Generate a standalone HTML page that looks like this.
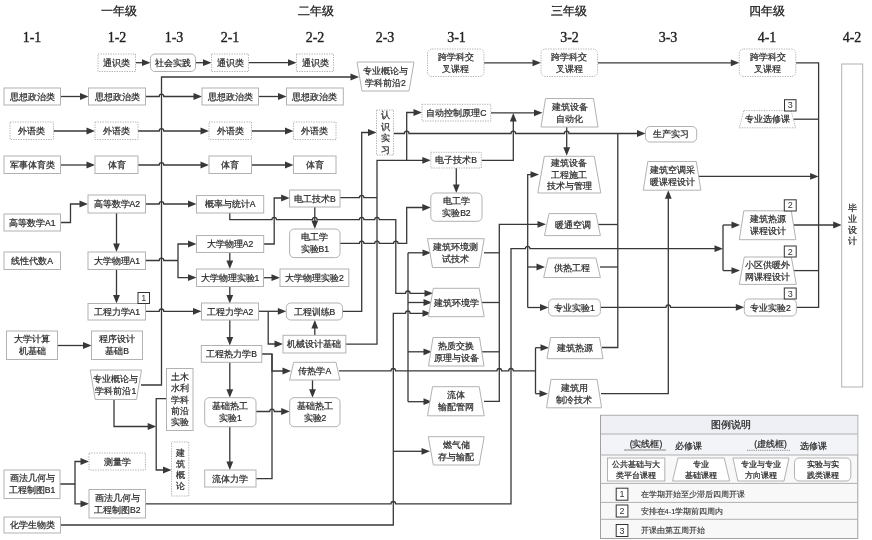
<!DOCTYPE html>
<html><head><meta charset="utf-8"><style>
html,body{margin:0;padding:0;background:#fff;}
svg{display:block;filter:blur(0.35px);}
</style></head><body>
<svg width="872" height="540" viewBox="0 0 872 540">
<rect width="872" height="540" fill="#fff"/>
<text x="118.5" y="10.9" font-size="11.5" fill="#222" text-anchor="middle" dominant-baseline="central" font-family='"Liberation Serif",serif' font-weight="normal" stroke="#222" stroke-width="0.3">一年级</text>
<text x="316.0" y="10.9" font-size="11.5" fill="#222" text-anchor="middle" dominant-baseline="central" font-family='"Liberation Serif",serif' font-weight="normal" stroke="#222" stroke-width="0.3">二年级</text>
<text x="569.0" y="10.9" font-size="11.5" fill="#222" text-anchor="middle" dominant-baseline="central" font-family='"Liberation Serif",serif' font-weight="normal" stroke="#222" stroke-width="0.3">三年级</text>
<text x="767.0" y="10.9" font-size="11.5" fill="#222" text-anchor="middle" dominant-baseline="central" font-family='"Liberation Serif",serif' font-weight="normal" stroke="#222" stroke-width="0.3">四年级</text>
<text x="32.0" y="37.1" font-size="14" fill="#222" text-anchor="middle" dominant-baseline="central" font-family='"Liberation Serif",serif' font-weight="normal" stroke="#222" stroke-width="0.35">1-1</text>
<text x="117.0" y="37.1" font-size="14" fill="#222" text-anchor="middle" dominant-baseline="central" font-family='"Liberation Serif",serif' font-weight="normal" stroke="#222" stroke-width="0.35">1-2</text>
<text x="174.0" y="37.1" font-size="14" fill="#222" text-anchor="middle" dominant-baseline="central" font-family='"Liberation Serif",serif' font-weight="normal" stroke="#222" stroke-width="0.35">1-3</text>
<text x="230.0" y="37.1" font-size="14" fill="#222" text-anchor="middle" dominant-baseline="central" font-family='"Liberation Serif",serif' font-weight="normal" stroke="#222" stroke-width="0.35">2-1</text>
<text x="315.0" y="37.1" font-size="14" fill="#222" text-anchor="middle" dominant-baseline="central" font-family='"Liberation Serif",serif' font-weight="normal" stroke="#222" stroke-width="0.35">2-2</text>
<text x="385.0" y="37.1" font-size="14" fill="#222" text-anchor="middle" dominant-baseline="central" font-family='"Liberation Serif",serif' font-weight="normal" stroke="#222" stroke-width="0.35">2-3</text>
<text x="456.5" y="37.1" font-size="14" fill="#222" text-anchor="middle" dominant-baseline="central" font-family='"Liberation Serif",serif' font-weight="normal" stroke="#222" stroke-width="0.35">3-1</text>
<text x="569.5" y="37.1" font-size="14" fill="#222" text-anchor="middle" dominant-baseline="central" font-family='"Liberation Serif",serif' font-weight="normal" stroke="#222" stroke-width="0.35">3-2</text>
<text x="668.0" y="37.1" font-size="14" fill="#222" text-anchor="middle" dominant-baseline="central" font-family='"Liberation Serif",serif' font-weight="normal" stroke="#222" stroke-width="0.35">3-3</text>
<text x="767.0" y="37.1" font-size="14" fill="#222" text-anchor="middle" dominant-baseline="central" font-family='"Liberation Serif",serif' font-weight="normal" stroke="#222" stroke-width="0.35">4-1</text>
<text x="852.0" y="37.1" font-size="14" fill="#222" text-anchor="middle" dominant-baseline="central" font-family='"Liberation Serif",serif' font-weight="normal" stroke="#222" stroke-width="0.35">4-2</text>
<path d="M135.5,62.7 L143.5,62.7" fill="none" stroke="#383838" stroke-width="1.3"/>
<polygon points="150.5,62.7 142.0,59.3 142.0,66.1" fill="#383838"/>
<path d="M195.5,62.7 L204.5,62.7" fill="none" stroke="#383838" stroke-width="1.3"/>
<polygon points="211.5,62.7 203.0,59.3 203.0,66.1" fill="#383838"/>
<path d="M248.5,62.7 L289.5,62.7" fill="none" stroke="#383838" stroke-width="1.3"/>
<polygon points="296.5,62.7 288.0,59.3 288.0,66.1" fill="#383838"/>
<path d="M141,385 L161.5,385 L161.5,77 L352,77" fill="none" stroke="#383838" stroke-width="1.3"/>
<polygon points="359.0,77.0 350.5,73.6 350.5,80.4" fill="#383838"/>
<path d="M60.5,96.5 L81.5,96.5" fill="none" stroke="#383838" stroke-width="1.3"/>
<polygon points="88.5,96.5 80.0,93.1 80.0,99.9" fill="#383838"/>
<path d="M145.5,96.5 L159.2,96.5 A2.3,2.3 0 0 1 163.8,96.5 L195,96.5" fill="none" stroke="#383838" stroke-width="1.3"/>
<polygon points="202.0,96.5 193.5,93.1 193.5,99.9" fill="#383838"/>
<path d="M258.5,96.5 L279.5,96.5" fill="none" stroke="#383838" stroke-width="1.3"/>
<polygon points="286.5,96.5 278.0,93.1 278.0,99.9" fill="#383838"/>
<path d="M53.5,131 L88,131" fill="none" stroke="#383838" stroke-width="1.3"/>
<polygon points="95.0,131.0 86.5,127.6 86.5,134.4" fill="#383838"/>
<path d="M138,131 L159.2,131 A2.3,2.3 0 0 1 163.8,131 L202,131" fill="none" stroke="#383838" stroke-width="1.3"/>
<polygon points="209.0,131.0 200.5,127.6 200.5,134.4" fill="#383838"/>
<path d="M251.5,131 L286.5,131" fill="none" stroke="#383838" stroke-width="1.3"/>
<polygon points="293.5,131.0 285.0,127.6 285.0,134.4" fill="#383838"/>
<path d="M60.5,165 L88,165" fill="none" stroke="#383838" stroke-width="1.3"/>
<polygon points="95.0,165.0 86.5,161.6 86.5,168.4" fill="#383838"/>
<path d="M138,165 L159.2,165 A2.3,2.3 0 0 1 163.8,165 L202,165" fill="none" stroke="#383838" stroke-width="1.3"/>
<polygon points="209.0,165.0 200.5,161.6 200.5,168.4" fill="#383838"/>
<path d="M251.5,165 L286.5,165" fill="none" stroke="#383838" stroke-width="1.3"/>
<polygon points="293.5,165.0 285.0,161.6 285.0,168.4" fill="#383838"/>
<path d="M60.5,222.5 L70.5,222.5 L70.5,204 L81,204" fill="none" stroke="#383838" stroke-width="1.3"/>
<polygon points="88.0,204.0 79.5,200.6 79.5,207.4" fill="#383838"/>
<path d="M145.5,204 L159.2,204 A2.3,2.3 0 0 1 163.8,204 L189.5,204" fill="none" stroke="#383838" stroke-width="1.3"/>
<polygon points="196.5,204.0 188.0,200.6 188.0,207.4" fill="#383838"/>
<path d="M116.5,213 L116.5,245" fill="none" stroke="#383838" stroke-width="1.3"/>
<polygon points="116.5,252.0 113.1,243.5 119.9,243.5" fill="#383838"/>
<path d="M145.5,260.5 L159.2,260.5 A2.3,2.3 0 0 1 163.8,260.5 L178,260.5" fill="none" stroke="#383838" stroke-width="1.3"/>
<path d="M178,260.5 L178,244 L189.5,244" fill="none" stroke="#383838" stroke-width="1.3"/>
<polygon points="196.5,244.0 188.0,240.6 188.0,247.4" fill="#383838"/>
<path d="M178,260.5 L178,277.6 L189.5,277.6" fill="none" stroke="#383838" stroke-width="1.3"/>
<polygon points="196.5,277.6 188.0,274.2 188.0,281.0" fill="#383838"/>
<path d="M116.5,269.5 L116.5,296.5" fill="none" stroke="#383838" stroke-width="1.3"/>
<polygon points="116.5,303.5 113.1,295.0 119.9,295.0" fill="#383838"/>
<path d="M145.5,311.3 L159.2,311.3 A2.3,2.3 0 0 1 163.8,311.3 L194.5,311.3" fill="none" stroke="#383838" stroke-width="1.3"/>
<polygon points="201.5,311.3 193.0,307.9 193.0,314.7" fill="#383838"/>
<path d="M57.5,345.5 L84.5,345.5" fill="none" stroke="#383838" stroke-width="1.3"/>
<polygon points="91.5,345.5 83.0,342.1 83.0,348.9" fill="#383838"/>
<path d="M114,399.5 L114,426.5 L149.2,426.5" fill="none" stroke="#383838" stroke-width="1.3"/>
<polygon points="156.2,426.5 147.7,423.1 147.7,429.9" fill="#383838"/>
<path d="M166.5,398.7 L156.2,398.7 L156.2,470 L164.5,470" fill="none" stroke="#383838" stroke-width="1.3"/>
<polygon points="171.5,470.0 163.0,466.6 163.0,473.4" fill="#383838"/>
<path d="M60,484 L75,484 L75,461.5 L82,461.5" fill="none" stroke="#383838" stroke-width="1.3"/>
<polygon points="89.0,461.5 80.5,458.1 80.5,464.9" fill="#383838"/>
<path d="M75,484 L75,503.8 L82,503.8" fill="none" stroke="#383838" stroke-width="1.3"/>
<polygon points="89.0,503.8 80.5,500.4 80.5,507.2" fill="#383838"/>
<path d="M145.5,503.8 L391.0,503.8 A2.3,2.3 0 0 1 395.6,503.8 L511,503.8 L511,248.7 L525.4000000000001,248.7 A2.3,2.3 0 0 1 530.0,248.7 L716,248.7" fill="none" stroke="#383838" stroke-width="1.3"/>
<polygon points="723.0,248.7 714.5,245.3 714.5,252.1" fill="#383838"/>
<path d="M60.5,525 L393.3,525 L393.3,313.3 L405.5,313.3 A2.3,2.3 0 0 1 410.1,313.3 L424,313.3" fill="none" stroke="#383838" stroke-width="1.3"/>
<polygon points="431.0,313.3 422.5,309.9 422.5,316.7" fill="#383838"/>
<path d="M393.3,451.3 L423,451.3" fill="none" stroke="#383838" stroke-width="1.3"/>
<polygon points="430.0,451.3 421.5,447.9 421.5,454.7" fill="#383838"/>
<path d="M229.8,213 L229.8,219.7 L271.9,219.7 A2.3,2.3 0 0 1 276.5,219.7 L312.5,219.7 A2.3,2.3 0 0 1 317.1,219.7 L359.4,219.7 A2.3,2.3 0 0 1 364.0,219.7 L374.7,219.7 A2.3,2.3 0 0 1 379.3,219.7 L395.8,219.7 L395.8,293.3 L405.5,293.3 A2.3,2.3 0 0 1 410.1,293.3 L426,293.3" fill="none" stroke="#383838" stroke-width="1.3"/>
<polygon points="433.0,293.3 424.5,289.9 424.5,296.7" fill="#383838"/>
<path d="M263.7,244 L274.2,244 L274.2,198 L282.6,198" fill="none" stroke="#383838" stroke-width="1.3"/>
<polygon points="289.6,198.0 281.1,194.6 281.1,201.4" fill="#383838"/>
<path d="M340,197.7 L359.4,197.7 A2.3,2.3 0 0 1 364.0,197.7 L377,197.7" fill="none" stroke="#383838" stroke-width="1.3"/>
<path d="M314.8,207 L314.8,222" fill="none" stroke="#383838" stroke-width="1.3"/>
<polygon points="314.8,229.0 311.4,220.5 318.2,220.5" fill="#383838"/>
<path d="M340,243.4 L359.4,243.4 A2.3,2.3 0 0 1 364.0,243.4 L374.7,243.4 A2.3,2.3 0 0 1 379.3,243.4 L393.5,243.4 A2.3,2.3 0 0 1 398.1,243.4 L406.7,243.4 L406.7,207.5 L423.8,207.5" fill="none" stroke="#383838" stroke-width="1.3"/>
<polygon points="430.8,207.5 422.3,204.1 422.3,210.9" fill="#383838"/>
<path d="M229.8,253 L229.8,262" fill="none" stroke="#383838" stroke-width="1.3"/>
<polygon points="229.8,269.0 226.4,260.5 233.2,260.5" fill="#383838"/>
<path d="M263,277.7 L273,277.7" fill="none" stroke="#383838" stroke-width="1.3"/>
<polygon points="280.0,277.7 271.5,274.3 271.5,281.1" fill="#383838"/>
<path d="M229.8,286.5 L229.8,296.5" fill="none" stroke="#383838" stroke-width="1.3"/>
<polygon points="229.8,303.5 226.4,295.0 233.2,295.0" fill="#383838"/>
<path d="M258.5,311.3 L279.3,311.3" fill="none" stroke="#383838" stroke-width="1.3"/>
<polygon points="286.3,311.3 277.8,307.9 277.8,314.7" fill="#383838"/>
<path d="M268.2,311.3 L268.2,344 L276,344" fill="none" stroke="#383838" stroke-width="1.3"/>
<polygon points="283.0,344.0 274.5,340.6 274.5,347.4" fill="#383838"/>
<path d="M314.8,335.3 L314.8,327" fill="none" stroke="#383838" stroke-width="1.3"/>
<polygon points="314.8,320.0 311.4,328.5 318.2,328.5" fill="#383838"/>
<path d="M342.5,311.3 L361.7,311.3 L361.7,132.5 L369.5,132.5" fill="none" stroke="#383838" stroke-width="1.3"/>
<polygon points="376.5,132.5 368.0,129.1 368.0,135.9" fill="#383838"/>
<path d="M345.8,344.2 L377,344.2 L377,160.3 L423.8,160.3" fill="none" stroke="#383838" stroke-width="1.3"/>
<polygon points="430.8,160.3 422.3,156.9 422.3,163.7" fill="#383838"/>
<path d="M406.7,160.3 L406.7,112.5 L415,112.5" fill="none" stroke="#383838" stroke-width="1.3"/>
<polygon points="422.0,112.5 413.5,109.1 413.5,115.9" fill="#383838"/>
<path d="M229.8,320 L229.8,338.5" fill="none" stroke="#383838" stroke-width="1.3"/>
<polygon points="229.8,345.5 226.4,337.0 233.2,337.0" fill="#383838"/>
<path d="M261.8,354 L272,354 L272,371 L284,371" fill="none" stroke="#383838" stroke-width="1.3"/>
<polygon points="291.0,371.0 282.5,367.6 282.5,374.4" fill="#383838"/>
<path d="M256,478.6 L272,478.6 L272,354" fill="none" stroke="#383838" stroke-width="1.3"/>
<path d="M229.8,362.3 L229.8,390.7" fill="none" stroke="#383838" stroke-width="1.3"/>
<polygon points="229.8,397.7 226.4,389.2 233.2,389.2" fill="#383838"/>
<path d="M256,411.5 L269.7,411.5 A2.3,2.3 0 0 1 274.3,411.5 L282.7,411.5" fill="none" stroke="#383838" stroke-width="1.3"/>
<polygon points="289.7,411.5 281.2,408.1 281.2,414.9" fill="#383838"/>
<path d="M312.5,380 L312.5,390.7" fill="none" stroke="#383838" stroke-width="1.3"/>
<polygon points="312.5,397.7 309.1,389.2 315.9,389.2" fill="#383838"/>
<path d="M229.8,426.7 L229.8,463" fill="none" stroke="#383838" stroke-width="1.3"/>
<polygon points="229.8,470.0 226.4,461.5 233.2,461.5" fill="#383838"/>
<path d="M339,370.8 L391.0,370.8 A2.3,2.3 0 0 1 395.6,370.8 L497.0,370.8 A2.3,2.3 0 0 1 501.6,370.8 L508.7,370.8 A2.3,2.3 0 0 1 513.3,370.8 L535.5,370.8" fill="none" stroke="#383838" stroke-width="1.3"/>
<path d="M408,252.8 L408,401.7" fill="none" stroke="#383838" stroke-width="1.3"/>
<path d="M408,252.8 L424,252.8" fill="none" stroke="#383838" stroke-width="1.3"/>
<polygon points="431.0,252.8 422.5,249.4 422.5,256.2" fill="#383838"/>
<path d="M408,302.5 L425,302.5" fill="none" stroke="#383838" stroke-width="1.3"/>
<polygon points="432.0,302.5 423.5,299.1 423.5,305.9" fill="#383838"/>
<path d="M408,351.8 L425,351.8" fill="none" stroke="#383838" stroke-width="1.3"/>
<polygon points="432.0,351.8 423.5,348.4 423.5,355.2" fill="#383838"/>
<path d="M408,401.7 L425,401.7" fill="none" stroke="#383838" stroke-width="1.3"/>
<polygon points="432.0,401.7 423.5,398.3 423.5,405.1" fill="#383838"/>
<path d="M535.5,347.7 L535.5,393.7" fill="none" stroke="#383838" stroke-width="1.3"/>
<path d="M535.5,347.7 L542,347.7" fill="none" stroke="#383838" stroke-width="1.3"/>
<polygon points="549.0,347.7 540.5,344.3 540.5,351.1" fill="#383838"/>
<path d="M535.5,393.7 L541,393.7" fill="none" stroke="#383838" stroke-width="1.3"/>
<polygon points="548.0,393.7 539.5,390.3 539.5,397.1" fill="#383838"/>
<path d="M393.5,133.5 L404.4,133.5 A2.3,2.3 0 0 1 409.0,133.5 L510.99999999999994,133.5 A2.3,2.3 0 0 1 515.5999999999999,133.5 L564.4000000000001,133.5 A2.3,2.3 0 0 1 569.0,133.5 L638.5,133.5" fill="none" stroke="#383838" stroke-width="1.3"/>
<polygon points="645.5,133.5 637.0,130.1 637.0,136.9" fill="#383838"/>
<path d="M490.8,112.8 L535.5,112.8" fill="none" stroke="#383838" stroke-width="1.3"/>
<polygon points="542.5,112.8 534.0,109.4 534.0,116.2" fill="#383838"/>
<path d="M481.5,160.3 L513.3,160.3 L513.3,120" fill="none" stroke="#383838" stroke-width="1.3"/>
<polygon points="513.3,113.0 509.9,121.5 516.7,121.5" fill="#383838"/>
<path d="M456.3,168 L456.3,186" fill="none" stroke="#383838" stroke-width="1.3"/>
<polygon points="456.3,193.0 452.9,184.5 459.7,184.5" fill="#383838"/>
<path d="M566.7,127 L566.7,148.8" fill="none" stroke="#383838" stroke-width="1.3"/>
<polygon points="566.7,155.8 563.3,147.3 570.1,147.3" fill="#383838"/>
<path d="M484,252.8 L499.3,252.8" fill="none" stroke="#383838" stroke-width="1.3"/>
<path d="M482,302.5 L499.3,302.5" fill="none" stroke="#383838" stroke-width="1.3"/>
<path d="M482,351.8 L499.3,351.8" fill="none" stroke="#383838" stroke-width="1.3"/>
<path d="M484,401.3 L499.3,401.3 L499.3,224.3 L539,224.3" fill="none" stroke="#383838" stroke-width="1.3"/>
<polygon points="546.0,224.3 537.5,220.9 537.5,227.7" fill="#383838"/>
<path d="M527.7,307.5 L527.7,174.6 L532,174.6" fill="none" stroke="#383838" stroke-width="1.3"/>
<polygon points="539.0,174.6 530.5,171.2 530.5,178.0" fill="#383838"/>
<path d="M527.7,267 L538,267" fill="none" stroke="#383838" stroke-width="1.3"/>
<polygon points="545.0,267.0 536.5,263.6 536.5,270.4" fill="#383838"/>
<path d="M527.7,307.5 L541.5,307.5" fill="none" stroke="#383838" stroke-width="1.3"/>
<polygon points="548.5,307.5 540.0,304.1 540.0,310.9" fill="#383838"/>
<path d="M598,224.5 L617.8,224.5" fill="none" stroke="#383838" stroke-width="1.3"/>
<path d="M600,267 L617.8,267" fill="none" stroke="#383838" stroke-width="1.3"/>
<path d="M602,347.5 L617.8,347.5 L617.8,133.5" fill="none" stroke="#383838" stroke-width="1.3"/>
<path d="M600.4,307.3 L666.0,307.3 A2.3,2.3 0 0 1 670.5999999999999,307.3 L737.3,307.3" fill="none" stroke="#383838" stroke-width="1.3"/>
<polygon points="744.3,307.3 735.8,303.9 735.8,310.7" fill="#383838"/>
<path d="M601,393.7 L668.3,393.7 L668.3,197.2" fill="none" stroke="#383838" stroke-width="1.3"/>
<polygon points="668.3,190.2 664.9,198.7 671.7,198.7" fill="#383838"/>
<path d="M723,225 L723,270.6" fill="none" stroke="#383838" stroke-width="1.3"/>
<path d="M723,225 L733,225" fill="none" stroke="#383838" stroke-width="1.3"/>
<polygon points="740.0,225.0 731.5,221.6 731.5,228.4" fill="#383838"/>
<path d="M723,270.6 L733,270.6" fill="none" stroke="#383838" stroke-width="1.3"/>
<polygon points="740.0,270.6 731.5,267.2 731.5,274.0" fill="#383838"/>
<path d="M484,62.8 L534,62.8" fill="none" stroke="#383838" stroke-width="1.3"/>
<polygon points="541.0,62.8 532.5,59.4 532.5,66.2" fill="#383838"/>
<path d="M597.6,62.8 L732.3,62.8" fill="none" stroke="#383838" stroke-width="1.3"/>
<polygon points="739.3,62.8 730.8,59.4 730.8,66.2" fill="#383838"/>
<path d="M795.8,62.8 L818.6,62.8 L818.6,307.3 L796.3,307.3" fill="none" stroke="#383838" stroke-width="1.3"/>
<path d="M791,119.2 L818.6,119.2" fill="none" stroke="#383838" stroke-width="1.3"/>
<path d="M698,176.4 L811.6,176.4" fill="none" stroke="#383838" stroke-width="1.3"/>
<polygon points="818.6,176.4 810.1,173.0 810.1,179.8" fill="#383838"/>
<path d="M794,270.6 L818.6,270.6" fill="none" stroke="#383838" stroke-width="1.3"/>
<path d="M793,225 L834.7,225" fill="none" stroke="#383838" stroke-width="1.3"/>
<polygon points="841.7,225.0 833.2,221.6 833.2,228.4" fill="#383838"/>
<rect x="98" y="54" width="37.5" height="17.5" fill="#fff" stroke="#b2b2b2" stroke-width="1" stroke-dasharray="1.3,1.2"/>
<text x="116.8" y="62.8" font-size="8.6" fill="#2a2a2a" text-anchor="middle" dominant-baseline="central" font-family='"Liberation Sans",sans-serif' font-weight="normal" stroke="#2a2a2a" stroke-width="0.22">通识类</text>
<rect x="150.5" y="54" width="45.0" height="17.5" rx="4.5" fill="#fff" stroke="#b2b2b2" stroke-width="1"/>
<text x="173.0" y="62.8" font-size="8.6" fill="#2a2a2a" text-anchor="middle" dominant-baseline="central" font-family='"Liberation Sans",sans-serif' font-weight="normal" stroke="#2a2a2a" stroke-width="0.22">社会实践</text>
<rect x="4" y="88" width="56.5" height="17.0" fill="#fff" stroke="#b2b2b2" stroke-width="1"/>
<text x="32.2" y="96.5" font-size="8.6" fill="#2a2a2a" text-anchor="middle" dominant-baseline="central" font-family='"Liberation Sans",sans-serif' font-weight="normal" stroke="#2a2a2a" stroke-width="0.22">思想政治类</text>
<rect x="88.5" y="88" width="57.0" height="17.0" fill="#fff" stroke="#b2b2b2" stroke-width="1"/>
<text x="117.0" y="96.5" font-size="8.6" fill="#2a2a2a" text-anchor="middle" dominant-baseline="central" font-family='"Liberation Sans",sans-serif' font-weight="normal" stroke="#2a2a2a" stroke-width="0.22">思想政治类</text>
<rect x="10" y="122" width="43.5" height="17.5" fill="#fff" stroke="#b2b2b2" stroke-width="1" stroke-dasharray="1.3,1.2"/>
<text x="31.8" y="130.8" font-size="8.6" fill="#2a2a2a" text-anchor="middle" dominant-baseline="central" font-family='"Liberation Sans",sans-serif' font-weight="normal" stroke="#2a2a2a" stroke-width="0.22">外语类</text>
<rect x="95" y="122" width="43.0" height="17.5" fill="#fff" stroke="#b2b2b2" stroke-width="1" stroke-dasharray="1.3,1.2"/>
<text x="116.5" y="130.8" font-size="8.6" fill="#2a2a2a" text-anchor="middle" dominant-baseline="central" font-family='"Liberation Sans",sans-serif' font-weight="normal" stroke="#2a2a2a" stroke-width="0.22">外语类</text>
<rect x="4" y="156" width="56.5" height="17.5" fill="#fff" stroke="#b2b2b2" stroke-width="1"/>
<text x="32.2" y="164.8" font-size="8.6" fill="#2a2a2a" text-anchor="middle" dominant-baseline="central" font-family='"Liberation Sans",sans-serif' font-weight="normal" stroke="#2a2a2a" stroke-width="0.22">军事体育类</text>
<rect x="95" y="156" width="43.0" height="17.5" fill="#fff" stroke="#b2b2b2" stroke-width="1"/>
<text x="116.5" y="164.8" font-size="8.6" fill="#2a2a2a" text-anchor="middle" dominant-baseline="central" font-family='"Liberation Sans",sans-serif' font-weight="normal" stroke="#2a2a2a" stroke-width="0.22">体育</text>
<rect x="88" y="195" width="57.5" height="18.0" fill="#fff" stroke="#b2b2b2" stroke-width="1"/>
<text x="116.8" y="204.0" font-size="8.6" fill="#2a2a2a" text-anchor="middle" dominant-baseline="central" font-family='"Liberation Sans",sans-serif' font-weight="normal" stroke="#2a2a2a" stroke-width="0.22">高等数学A2</text>
<rect x="4" y="214" width="56.5" height="17.0" fill="#fff" stroke="#b2b2b2" stroke-width="1"/>
<text x="32.2" y="222.5" font-size="8.6" fill="#2a2a2a" text-anchor="middle" dominant-baseline="central" font-family='"Liberation Sans",sans-serif' font-weight="normal" stroke="#2a2a2a" stroke-width="0.22">高等数学A1</text>
<rect x="4" y="252" width="56.5" height="17.5" fill="#fff" stroke="#b2b2b2" stroke-width="1"/>
<text x="32.2" y="260.8" font-size="8.6" fill="#2a2a2a" text-anchor="middle" dominant-baseline="central" font-family='"Liberation Sans",sans-serif' font-weight="normal" stroke="#2a2a2a" stroke-width="0.22">线性代数A</text>
<rect x="88" y="252" width="57.5" height="17.5" fill="#fff" stroke="#b2b2b2" stroke-width="1"/>
<text x="116.8" y="260.8" font-size="8.6" fill="#2a2a2a" text-anchor="middle" dominant-baseline="central" font-family='"Liberation Sans",sans-serif' font-weight="normal" stroke="#2a2a2a" stroke-width="0.22">大学物理A1</text>
<rect x="88" y="303.5" width="57.5" height="16.5" fill="#fff" stroke="#b2b2b2" stroke-width="1"/>
<text x="116.8" y="311.8" font-size="8.6" fill="#2a2a2a" text-anchor="middle" dominant-baseline="central" font-family='"Liberation Sans",sans-serif' font-weight="normal" stroke="#2a2a2a" stroke-width="0.22">工程力学A1</text>
<rect x="138" y="292.5" width="11.5" height="11.0" fill="#fff" stroke="#333" stroke-width="1"/>
<text x="143.8" y="298.0" font-size="9" fill="#333" text-anchor="middle" dominant-baseline="central" font-family='"Liberation Sans",sans-serif' font-weight="normal">1</text>
<rect x="6.5" y="331" width="51.0" height="28.5" fill="#fff" stroke="#b2b2b2" stroke-width="1"/>
<text x="32.0" y="339.2" font-size="8.6" fill="#2a2a2a" text-anchor="middle" dominant-baseline="central" font-family='"Liberation Sans",sans-serif' font-weight="normal" stroke="#2a2a2a" stroke-width="0.22">大学计算</text>
<text x="32.0" y="351.2" font-size="8.6" fill="#2a2a2a" text-anchor="middle" dominant-baseline="central" font-family='"Liberation Sans",sans-serif' font-weight="normal" stroke="#2a2a2a" stroke-width="0.22">机基础</text>
<rect x="91.5" y="331" width="51.0" height="28.5" fill="#fff" stroke="#b2b2b2" stroke-width="1"/>
<text x="117.0" y="339.2" font-size="8.6" fill="#2a2a2a" text-anchor="middle" dominant-baseline="central" font-family='"Liberation Sans",sans-serif' font-weight="normal" stroke="#2a2a2a" stroke-width="0.22">程序设计</text>
<text x="117.0" y="351.2" font-size="8.6" fill="#2a2a2a" text-anchor="middle" dominant-baseline="central" font-family='"Liberation Sans",sans-serif' font-weight="normal" stroke="#2a2a2a" stroke-width="0.22">基础B</text>
<polygon points="90.2,370.0 141.5,370.0 136.5,399.5 95.2,399.5" fill="#fff" stroke="#b2b2b2" stroke-width="1"/>
<text x="115.8" y="378.8" font-size="8.6" fill="#2a2a2a" text-anchor="middle" dominant-baseline="central" font-family='"Liberation Sans",sans-serif' font-weight="normal" stroke="#2a2a2a" stroke-width="0.22">专业概论与</text>
<text x="115.8" y="390.8" font-size="8.6" fill="#2a2a2a" text-anchor="middle" dominant-baseline="central" font-family='"Liberation Sans",sans-serif' font-weight="normal" stroke="#2a2a2a" stroke-width="0.22">学科前沿1</text>
<rect x="166.5" y="368.5" width="26.5" height="62.0" fill="#fff" stroke="#b2b2b2" stroke-width="1"/>
<text x="179.8" y="377.1" font-size="8.6" fill="#2a2a2a" text-anchor="middle" dominant-baseline="central" font-family='"Liberation Sans",sans-serif' font-weight="normal" stroke="#2a2a2a" stroke-width="0.22">土木</text>
<text x="179.8" y="388.3" font-size="8.6" fill="#2a2a2a" text-anchor="middle" dominant-baseline="central" font-family='"Liberation Sans",sans-serif' font-weight="normal" stroke="#2a2a2a" stroke-width="0.22">水利</text>
<text x="179.8" y="399.5" font-size="8.6" fill="#2a2a2a" text-anchor="middle" dominant-baseline="central" font-family='"Liberation Sans",sans-serif' font-weight="normal" stroke="#2a2a2a" stroke-width="0.22">学科</text>
<text x="179.8" y="410.7" font-size="8.6" fill="#2a2a2a" text-anchor="middle" dominant-baseline="central" font-family='"Liberation Sans",sans-serif' font-weight="normal" stroke="#2a2a2a" stroke-width="0.22">前沿</text>
<text x="179.8" y="421.9" font-size="8.6" fill="#2a2a2a" text-anchor="middle" dominant-baseline="central" font-family='"Liberation Sans",sans-serif' font-weight="normal" stroke="#2a2a2a" stroke-width="0.22">实验</text>
<rect x="171.5" y="442" width="17.3" height="54.0" fill="#fff" stroke="#b2b2b2" stroke-width="1" stroke-dasharray="1.3,1.2"/>
<text x="180.2" y="452.5" font-size="8.6" fill="#2a2a2a" text-anchor="middle" dominant-baseline="central" font-family='"Liberation Sans",sans-serif' font-weight="normal" stroke="#2a2a2a" stroke-width="0.22">建</text>
<text x="180.2" y="463.5" font-size="8.6" fill="#2a2a2a" text-anchor="middle" dominant-baseline="central" font-family='"Liberation Sans",sans-serif' font-weight="normal" stroke="#2a2a2a" stroke-width="0.22">筑</text>
<text x="180.2" y="474.5" font-size="8.6" fill="#2a2a2a" text-anchor="middle" dominant-baseline="central" font-family='"Liberation Sans",sans-serif' font-weight="normal" stroke="#2a2a2a" stroke-width="0.22">概</text>
<text x="180.2" y="485.5" font-size="8.6" fill="#2a2a2a" text-anchor="middle" dominant-baseline="central" font-family='"Liberation Sans",sans-serif' font-weight="normal" stroke="#2a2a2a" stroke-width="0.22">论</text>
<rect x="89" y="453" width="56.5" height="17.0" fill="#fff" stroke="#b2b2b2" stroke-width="1" stroke-dasharray="1.3,1.2"/>
<text x="117.2" y="461.5" font-size="8.6" fill="#2a2a2a" text-anchor="middle" dominant-baseline="central" font-family='"Liberation Sans",sans-serif' font-weight="normal" stroke="#2a2a2a" stroke-width="0.22">测量学</text>
<rect x="4" y="470" width="56.0" height="28.5" fill="#fff" stroke="#b2b2b2" stroke-width="1"/>
<text x="32.0" y="478.2" font-size="8.6" fill="#2a2a2a" text-anchor="middle" dominant-baseline="central" font-family='"Liberation Sans",sans-serif' font-weight="normal" stroke="#2a2a2a" stroke-width="0.22">画法几何与</text>
<text x="32.0" y="490.2" font-size="8.6" fill="#2a2a2a" text-anchor="middle" dominant-baseline="central" font-family='"Liberation Sans",sans-serif' font-weight="normal" stroke="#2a2a2a" stroke-width="0.22">工程制图B1</text>
<rect x="89" y="489.5" width="56.5" height="28.5" fill="#fff" stroke="#b2b2b2" stroke-width="1"/>
<text x="117.2" y="497.8" font-size="8.6" fill="#2a2a2a" text-anchor="middle" dominant-baseline="central" font-family='"Liberation Sans",sans-serif' font-weight="normal" stroke="#2a2a2a" stroke-width="0.22">画法几何与</text>
<text x="117.2" y="509.8" font-size="8.6" fill="#2a2a2a" text-anchor="middle" dominant-baseline="central" font-family='"Liberation Sans",sans-serif' font-weight="normal" stroke="#2a2a2a" stroke-width="0.22">工程制图B2</text>
<rect x="4" y="517" width="56.5" height="16.0" fill="#fff" stroke="#b2b2b2" stroke-width="1"/>
<text x="32.2" y="525.0" font-size="8.6" fill="#2a2a2a" text-anchor="middle" dominant-baseline="central" font-family='"Liberation Sans",sans-serif' font-weight="normal" stroke="#2a2a2a" stroke-width="0.22">化学生物类</text>
<rect x="211.5" y="54" width="37.0" height="17.5" fill="#fff" stroke="#b2b2b2" stroke-width="1" stroke-dasharray="1.3,1.2"/>
<text x="230.0" y="62.8" font-size="8.6" fill="#2a2a2a" text-anchor="middle" dominant-baseline="central" font-family='"Liberation Sans",sans-serif' font-weight="normal" stroke="#2a2a2a" stroke-width="0.22">通识类</text>
<rect x="296.5" y="54" width="37.0" height="17.5" fill="#fff" stroke="#b2b2b2" stroke-width="1" stroke-dasharray="1.3,1.2"/>
<text x="315.0" y="62.8" font-size="8.6" fill="#2a2a2a" text-anchor="middle" dominant-baseline="central" font-family='"Liberation Sans",sans-serif' font-weight="normal" stroke="#2a2a2a" stroke-width="0.22">通识类</text>
<polygon points="357.0,62.0 414.0,62.0 409.0,91.0 362.0,91.0" fill="#fff" stroke="#b2b2b2" stroke-width="1"/>
<text x="385.5" y="70.5" font-size="8.6" fill="#2a2a2a" text-anchor="middle" dominant-baseline="central" font-family='"Liberation Sans",sans-serif' font-weight="normal" stroke="#2a2a2a" stroke-width="0.22">专业概论与</text>
<text x="385.5" y="82.5" font-size="8.6" fill="#2a2a2a" text-anchor="middle" dominant-baseline="central" font-family='"Liberation Sans",sans-serif' font-weight="normal" stroke="#2a2a2a" stroke-width="0.22">学科前沿2</text>
<rect x="202" y="88" width="56.5" height="17.0" fill="#fff" stroke="#b2b2b2" stroke-width="1"/>
<text x="230.2" y="96.5" font-size="8.6" fill="#2a2a2a" text-anchor="middle" dominant-baseline="central" font-family='"Liberation Sans",sans-serif' font-weight="normal" stroke="#2a2a2a" stroke-width="0.22">思想政治类</text>
<rect x="286.5" y="88" width="56.8" height="17.0" fill="#fff" stroke="#b2b2b2" stroke-width="1"/>
<text x="314.9" y="96.5" font-size="8.6" fill="#2a2a2a" text-anchor="middle" dominant-baseline="central" font-family='"Liberation Sans",sans-serif' font-weight="normal" stroke="#2a2a2a" stroke-width="0.22">思想政治类</text>
<rect x="209" y="122" width="42.5" height="17.5" fill="#fff" stroke="#b2b2b2" stroke-width="1" stroke-dasharray="1.3,1.2"/>
<text x="230.2" y="130.8" font-size="8.6" fill="#2a2a2a" text-anchor="middle" dominant-baseline="central" font-family='"Liberation Sans",sans-serif' font-weight="normal" stroke="#2a2a2a" stroke-width="0.22">外语类</text>
<rect x="293.5" y="122" width="42.5" height="17.5" fill="#fff" stroke="#b2b2b2" stroke-width="1" stroke-dasharray="1.3,1.2"/>
<text x="314.8" y="130.8" font-size="8.6" fill="#2a2a2a" text-anchor="middle" dominant-baseline="central" font-family='"Liberation Sans",sans-serif' font-weight="normal" stroke="#2a2a2a" stroke-width="0.22">外语类</text>
<rect x="376.5" y="110" width="17.0" height="45.0" fill="#fff" stroke="#b2b2b2" stroke-width="1" stroke-dasharray="1.3,1.2"/>
<text x="385.0" y="115.4" font-size="8.6" fill="#2a2a2a" text-anchor="middle" dominant-baseline="central" font-family='"Liberation Sans",sans-serif' font-weight="normal" stroke="#2a2a2a" stroke-width="0.22">认</text>
<text x="385.0" y="126.8" font-size="8.6" fill="#2a2a2a" text-anchor="middle" dominant-baseline="central" font-family='"Liberation Sans",sans-serif' font-weight="normal" stroke="#2a2a2a" stroke-width="0.22">识</text>
<text x="385.0" y="138.2" font-size="8.6" fill="#2a2a2a" text-anchor="middle" dominant-baseline="central" font-family='"Liberation Sans",sans-serif' font-weight="normal" stroke="#2a2a2a" stroke-width="0.22">实</text>
<text x="385.0" y="149.6" font-size="8.6" fill="#2a2a2a" text-anchor="middle" dominant-baseline="central" font-family='"Liberation Sans",sans-serif' font-weight="normal" stroke="#2a2a2a" stroke-width="0.22">习</text>
<rect x="209" y="156" width="42.5" height="17.5" fill="#fff" stroke="#b2b2b2" stroke-width="1"/>
<text x="230.2" y="164.8" font-size="8.6" fill="#2a2a2a" text-anchor="middle" dominant-baseline="central" font-family='"Liberation Sans",sans-serif' font-weight="normal" stroke="#2a2a2a" stroke-width="0.22">体育</text>
<rect x="293.5" y="156" width="42.5" height="17.5" fill="#fff" stroke="#b2b2b2" stroke-width="1"/>
<text x="314.8" y="164.8" font-size="8.6" fill="#2a2a2a" text-anchor="middle" dominant-baseline="central" font-family='"Liberation Sans",sans-serif' font-weight="normal" stroke="#2a2a2a" stroke-width="0.22">体育</text>
<rect x="196.5" y="195.5" width="67.2" height="17.5" fill="#fff" stroke="#b2b2b2" stroke-width="1"/>
<text x="230.1" y="204.2" font-size="8.6" fill="#2a2a2a" text-anchor="middle" dominant-baseline="central" font-family='"Liberation Sans",sans-serif' font-weight="normal" stroke="#2a2a2a" stroke-width="0.22">概率与统计A</text>
<rect x="289.6" y="190" width="50.4" height="17.0" fill="#fff" stroke="#b2b2b2" stroke-width="1"/>
<text x="314.8" y="198.5" font-size="8.6" fill="#2a2a2a" text-anchor="middle" dominant-baseline="central" font-family='"Liberation Sans",sans-serif' font-weight="normal" stroke="#2a2a2a" stroke-width="0.22">电工技术B</text>
<rect x="289.6" y="229" width="50.4" height="28.6" rx="4.5" fill="#fff" stroke="#b2b2b2" stroke-width="1"/>
<text x="314.8" y="237.3" font-size="8.6" fill="#2a2a2a" text-anchor="middle" dominant-baseline="central" font-family='"Liberation Sans",sans-serif' font-weight="normal" stroke="#2a2a2a" stroke-width="0.22">电工学</text>
<text x="314.8" y="249.3" font-size="8.6" fill="#2a2a2a" text-anchor="middle" dominant-baseline="central" font-family='"Liberation Sans",sans-serif' font-weight="normal" stroke="#2a2a2a" stroke-width="0.22">实验B1</text>
<rect x="196.5" y="235.5" width="67.2" height="17.0" fill="#fff" stroke="#b2b2b2" stroke-width="1"/>
<text x="230.1" y="244.0" font-size="8.6" fill="#2a2a2a" text-anchor="middle" dominant-baseline="central" font-family='"Liberation Sans",sans-serif' font-weight="normal" stroke="#2a2a2a" stroke-width="0.22">大学物理A2</text>
<rect x="196.5" y="269" width="67.0" height="17.5" fill="#fff" stroke="#b2b2b2" stroke-width="1"/>
<text x="230.0" y="277.8" font-size="8.6" fill="#2a2a2a" text-anchor="middle" dominant-baseline="central" font-family='"Liberation Sans",sans-serif' font-weight="normal" stroke="#2a2a2a" stroke-width="0.22">大学物理实验1</text>
<rect x="280" y="269" width="68.8" height="17.5" fill="#fff" stroke="#b2b2b2" stroke-width="1"/>
<text x="314.4" y="277.8" font-size="8.6" fill="#2a2a2a" text-anchor="middle" dominant-baseline="central" font-family='"Liberation Sans",sans-serif' font-weight="normal" stroke="#2a2a2a" stroke-width="0.22">大学物理实验2</text>
<rect x="201.5" y="303" width="57.0" height="17.0" fill="#fff" stroke="#b2b2b2" stroke-width="1"/>
<text x="230.0" y="311.5" font-size="8.6" fill="#2a2a2a" text-anchor="middle" dominant-baseline="central" font-family='"Liberation Sans",sans-serif' font-weight="normal" stroke="#2a2a2a" stroke-width="0.22">工程力学A2</text>
<rect x="286.3" y="303" width="56.2" height="17.0" rx="4.5" fill="#fff" stroke="#b2b2b2" stroke-width="1"/>
<text x="314.4" y="311.5" font-size="8.6" fill="#2a2a2a" text-anchor="middle" dominant-baseline="central" font-family='"Liberation Sans",sans-serif' font-weight="normal" stroke="#2a2a2a" stroke-width="0.22">工程训练B</text>
<rect x="283" y="335.3" width="62.8" height="17.7" fill="#fff" stroke="#b2b2b2" stroke-width="1"/>
<text x="314.4" y="344.1" font-size="8.6" fill="#2a2a2a" text-anchor="middle" dominant-baseline="central" font-family='"Liberation Sans",sans-serif' font-weight="normal" stroke="#2a2a2a" stroke-width="0.22">机械设计基础</text>
<rect x="201.3" y="345.5" width="60.5" height="16.8" fill="#fff" stroke="#b2b2b2" stroke-width="1"/>
<text x="231.6" y="353.9" font-size="8.6" fill="#2a2a2a" text-anchor="middle" dominant-baseline="central" font-family='"Liberation Sans",sans-serif' font-weight="normal" stroke="#2a2a2a" stroke-width="0.22">工程热力学B</text>
<polygon points="293.6,362.3 336.0,362.3 340.0,380.0 289.6,380.0" fill="#fff" stroke="#b2b2b2" stroke-width="1"/>
<text x="314.8" y="371.1" font-size="8.6" fill="#2a2a2a" text-anchor="middle" dominant-baseline="central" font-family='"Liberation Sans",sans-serif' font-weight="normal" stroke="#2a2a2a" stroke-width="0.22">传热学A</text>
<rect x="204.7" y="397.7" width="51.3" height="29.0" rx="4.5" fill="#fff" stroke="#b2b2b2" stroke-width="1"/>
<text x="230.3" y="406.2" font-size="8.6" fill="#2a2a2a" text-anchor="middle" dominant-baseline="central" font-family='"Liberation Sans",sans-serif' font-weight="normal" stroke="#2a2a2a" stroke-width="0.22">基础热工</text>
<text x="230.3" y="418.2" font-size="8.6" fill="#2a2a2a" text-anchor="middle" dominant-baseline="central" font-family='"Liberation Sans",sans-serif' font-weight="normal" stroke="#2a2a2a" stroke-width="0.22">实验1</text>
<rect x="289.7" y="397.7" width="50.3" height="29.0" rx="4.5" fill="#fff" stroke="#b2b2b2" stroke-width="1"/>
<text x="314.9" y="406.2" font-size="8.6" fill="#2a2a2a" text-anchor="middle" dominant-baseline="central" font-family='"Liberation Sans",sans-serif' font-weight="normal" stroke="#2a2a2a" stroke-width="0.22">基础热工</text>
<text x="314.9" y="418.2" font-size="8.6" fill="#2a2a2a" text-anchor="middle" dominant-baseline="central" font-family='"Liberation Sans",sans-serif' font-weight="normal" stroke="#2a2a2a" stroke-width="0.22">实验2</text>
<rect x="204.7" y="470" width="51.3" height="17.0" fill="#fff" stroke="#b2b2b2" stroke-width="1"/>
<text x="230.3" y="478.5" font-size="8.6" fill="#2a2a2a" text-anchor="middle" dominant-baseline="central" font-family='"Liberation Sans",sans-serif' font-weight="normal" stroke="#2a2a2a" stroke-width="0.22">流体力学</text>
<rect x="427.5" y="49" width="56.5" height="27.5" rx="4.5" fill="#fff" stroke="#b2b2b2" stroke-width="1" stroke-dasharray="1.3,1.2"/>
<text x="455.8" y="56.8" font-size="8.6" fill="#2a2a2a" text-anchor="middle" dominant-baseline="central" font-family='"Liberation Sans",sans-serif' font-weight="normal" stroke="#2a2a2a" stroke-width="0.22">跨学科交</text>
<text x="455.8" y="68.8" font-size="8.6" fill="#2a2a2a" text-anchor="middle" dominant-baseline="central" font-family='"Liberation Sans",sans-serif' font-weight="normal" stroke="#2a2a2a" stroke-width="0.22">叉课程</text>
<rect x="541" y="49" width="56.6" height="27.5" rx="4.5" fill="#fff" stroke="#b2b2b2" stroke-width="1" stroke-dasharray="1.3,1.2"/>
<text x="569.3" y="56.8" font-size="8.6" fill="#2a2a2a" text-anchor="middle" dominant-baseline="central" font-family='"Liberation Sans",sans-serif' font-weight="normal" stroke="#2a2a2a" stroke-width="0.22">跨学科交</text>
<text x="569.3" y="68.8" font-size="8.6" fill="#2a2a2a" text-anchor="middle" dominant-baseline="central" font-family='"Liberation Sans",sans-serif' font-weight="normal" stroke="#2a2a2a" stroke-width="0.22">叉课程</text>
<rect x="422" y="104.3" width="68.8" height="16.7" fill="#fff" stroke="#b2b2b2" stroke-width="1" stroke-dasharray="1.3,1.2"/>
<text x="456.4" y="112.7" font-size="8.6" fill="#2a2a2a" text-anchor="middle" dominant-baseline="central" font-family='"Liberation Sans",sans-serif' font-weight="normal" stroke="#2a2a2a" stroke-width="0.22">自动控制原理C</text>
<polygon points="545.5,98.5 593.5,98.5 598.0,127.0 541.0,127.0" fill="#fff" stroke="#b2b2b2" stroke-width="1"/>
<text x="569.5" y="106.8" font-size="8.6" fill="#2a2a2a" text-anchor="middle" dominant-baseline="central" font-family='"Liberation Sans",sans-serif' font-weight="normal" stroke="#2a2a2a" stroke-width="0.22">建筑设备</text>
<text x="569.5" y="118.8" font-size="8.6" fill="#2a2a2a" text-anchor="middle" dominant-baseline="central" font-family='"Liberation Sans",sans-serif' font-weight="normal" stroke="#2a2a2a" stroke-width="0.22">自动化</text>
<rect x="430.8" y="152.3" width="50.5" height="15.7" fill="#fff" stroke="#b2b2b2" stroke-width="1" stroke-dasharray="1.3,1.2"/>
<text x="456.1" y="160.2" font-size="8.6" fill="#2a2a2a" text-anchor="middle" dominant-baseline="central" font-family='"Liberation Sans",sans-serif' font-weight="normal" stroke="#2a2a2a" stroke-width="0.22">电子技术B</text>
<rect x="430.8" y="193" width="51.2" height="28.3" rx="4.5" fill="#fff" stroke="#b2b2b2" stroke-width="1"/>
<text x="456.4" y="201.2" font-size="8.6" fill="#2a2a2a" text-anchor="middle" dominant-baseline="central" font-family='"Liberation Sans",sans-serif' font-weight="normal" stroke="#2a2a2a" stroke-width="0.22">电工学</text>
<text x="456.4" y="213.2" font-size="8.6" fill="#2a2a2a" text-anchor="middle" dominant-baseline="central" font-family='"Liberation Sans",sans-serif' font-weight="normal" stroke="#2a2a2a" stroke-width="0.22">实验B2</text>
<polygon points="544.3,156.3 594.3,156.3 600.8,193.0 537.8,193.0" fill="#fff" stroke="#b2b2b2" stroke-width="1"/>
<text x="569.3" y="163.0" font-size="8.6" fill="#2a2a2a" text-anchor="middle" dominant-baseline="central" font-family='"Liberation Sans",sans-serif' font-weight="normal" stroke="#2a2a2a" stroke-width="0.22">建筑设备</text>
<text x="569.3" y="174.7" font-size="8.6" fill="#2a2a2a" text-anchor="middle" dominant-baseline="central" font-family='"Liberation Sans",sans-serif' font-weight="normal" stroke="#2a2a2a" stroke-width="0.22">工程施工</text>
<text x="569.3" y="186.4" font-size="8.6" fill="#2a2a2a" text-anchor="middle" dominant-baseline="central" font-family='"Liberation Sans",sans-serif' font-weight="normal" stroke="#2a2a2a" stroke-width="0.22">技术与管理</text>
<polygon points="549.0,213.6 595.9,213.6 600.4,235.6 544.5,235.6" fill="#fff" stroke="#b2b2b2" stroke-width="1"/>
<text x="572.5" y="224.6" font-size="8.6" fill="#2a2a2a" text-anchor="middle" dominant-baseline="central" font-family='"Liberation Sans",sans-serif' font-weight="normal" stroke="#2a2a2a" stroke-width="0.22">暖通空调</text>
<polygon points="427.5,238.7 484.2,238.7 479.2,267.5 432.5,267.5" fill="#fff" stroke="#b2b2b2" stroke-width="1"/>
<text x="455.9" y="247.1" font-size="8.6" fill="#2a2a2a" text-anchor="middle" dominant-baseline="central" font-family='"Liberation Sans",sans-serif' font-weight="normal" stroke="#2a2a2a" stroke-width="0.22">建筑环境测</text>
<text x="455.9" y="259.1" font-size="8.6" fill="#2a2a2a" text-anchor="middle" dominant-baseline="central" font-family='"Liberation Sans",sans-serif' font-weight="normal" stroke="#2a2a2a" stroke-width="0.22">试技术</text>
<polygon points="548.2,258.0 595.9,258.0 600.4,277.5 543.7,277.5" fill="#fff" stroke="#b2b2b2" stroke-width="1"/>
<text x="572.0" y="267.8" font-size="8.6" fill="#2a2a2a" text-anchor="middle" dominant-baseline="central" font-family='"Liberation Sans",sans-serif' font-weight="normal" stroke="#2a2a2a" stroke-width="0.22">供热工程</text>
<rect x="548.6" y="299" width="51.8" height="17.0" rx="4.5" fill="#fff" stroke="#b2b2b2" stroke-width="1"/>
<text x="574.5" y="307.5" font-size="8.6" fill="#2a2a2a" text-anchor="middle" dominant-baseline="central" font-family='"Liberation Sans",sans-serif' font-weight="normal" stroke="#2a2a2a" stroke-width="0.22">专业实验1</text>
<polygon points="433.3,288.3 479.2,288.3 484.2,316.7 428.3,316.7" fill="#fff" stroke="#b2b2b2" stroke-width="1"/>
<text x="456.2" y="302.5" font-size="8.6" fill="#2a2a2a" text-anchor="middle" dominant-baseline="central" font-family='"Liberation Sans",sans-serif' font-weight="normal" stroke="#2a2a2a" stroke-width="0.22">建筑环境学</text>
<polygon points="433.0,337.5 479.5,337.5 484.0,366.0 428.5,366.0" fill="#fff" stroke="#b2b2b2" stroke-width="1"/>
<text x="456.2" y="345.8" font-size="8.6" fill="#2a2a2a" text-anchor="middle" dominant-baseline="central" font-family='"Liberation Sans",sans-serif' font-weight="normal" stroke="#2a2a2a" stroke-width="0.22">热质交换</text>
<text x="456.2" y="357.8" font-size="8.6" fill="#2a2a2a" text-anchor="middle" dominant-baseline="central" font-family='"Liberation Sans",sans-serif' font-weight="normal" stroke="#2a2a2a" stroke-width="0.22">原理与设备</text>
<polygon points="550.5,337.5 599.5,337.5 603.0,358.7 547.0,358.7" fill="#fff" stroke="#b2b2b2" stroke-width="1"/>
<text x="575.0" y="348.1" font-size="8.6" fill="#2a2a2a" text-anchor="middle" dominant-baseline="central" font-family='"Liberation Sans",sans-serif' font-weight="normal" stroke="#2a2a2a" stroke-width="0.22">建筑热源</text>
<polygon points="551.0,379.4 597.1,379.4 601.6,407.8 546.5,407.8" fill="#fff" stroke="#b2b2b2" stroke-width="1"/>
<text x="574.0" y="387.6" font-size="8.6" fill="#2a2a2a" text-anchor="middle" dominant-baseline="central" font-family='"Liberation Sans",sans-serif' font-weight="normal" stroke="#2a2a2a" stroke-width="0.22">建筑用</text>
<text x="574.0" y="399.6" font-size="8.6" fill="#2a2a2a" text-anchor="middle" dominant-baseline="central" font-family='"Liberation Sans",sans-serif' font-weight="normal" stroke="#2a2a2a" stroke-width="0.22">制冷技术</text>
<polygon points="432.5,386.7 479.2,386.7 484.2,415.8 427.5,415.8" fill="#fff" stroke="#b2b2b2" stroke-width="1"/>
<text x="455.9" y="395.2" font-size="8.6" fill="#2a2a2a" text-anchor="middle" dominant-baseline="central" font-family='"Liberation Sans",sans-serif' font-weight="normal" stroke="#2a2a2a" stroke-width="0.22">流体</text>
<text x="455.9" y="407.2" font-size="8.6" fill="#2a2a2a" text-anchor="middle" dominant-baseline="central" font-family='"Liberation Sans",sans-serif' font-weight="normal" stroke="#2a2a2a" stroke-width="0.22">输配管网</text>
<polygon points="428.3,436.7 484.2,436.7 479.2,465.0 433.3,465.0" fill="#fff" stroke="#b2b2b2" stroke-width="1"/>
<text x="456.2" y="444.9" font-size="8.6" fill="#2a2a2a" text-anchor="middle" dominant-baseline="central" font-family='"Liberation Sans",sans-serif' font-weight="normal" stroke="#2a2a2a" stroke-width="0.22">燃气储</text>
<text x="456.2" y="456.9" font-size="8.6" fill="#2a2a2a" text-anchor="middle" dominant-baseline="central" font-family='"Liberation Sans",sans-serif' font-weight="normal" stroke="#2a2a2a" stroke-width="0.22">存与输配</text>
<rect x="645.5" y="126.5" width="51.2" height="15.5" rx="4.5" fill="#fff" stroke="#b2b2b2" stroke-width="1"/>
<text x="671.1" y="134.2" font-size="8.6" fill="#2a2a2a" text-anchor="middle" dominant-baseline="central" font-family='"Liberation Sans",sans-serif' font-weight="normal" stroke="#2a2a2a" stroke-width="0.22">生产实习</text>
<polygon points="647.8,161.5 696.3,161.5 700.8,190.2 643.3,190.2" fill="#fff" stroke="#b2b2b2" stroke-width="1"/>
<text x="672.0" y="169.8" font-size="8.6" fill="#2a2a2a" text-anchor="middle" dominant-baseline="central" font-family='"Liberation Sans",sans-serif' font-weight="normal" stroke="#2a2a2a" stroke-width="0.22">建筑空调采</text>
<text x="672.0" y="181.8" font-size="8.6" fill="#2a2a2a" text-anchor="middle" dominant-baseline="central" font-family='"Liberation Sans",sans-serif' font-weight="normal" stroke="#2a2a2a" stroke-width="0.22">暖课程设计</text>
<rect x="739.3" y="49" width="56.5" height="27.5" rx="4.5" fill="#fff" stroke="#b2b2b2" stroke-width="1" stroke-dasharray="1.3,1.2"/>
<text x="767.5" y="56.8" font-size="8.6" fill="#2a2a2a" text-anchor="middle" dominant-baseline="central" font-family='"Liberation Sans",sans-serif' font-weight="normal" stroke="#2a2a2a" stroke-width="0.22">跨学科交</text>
<text x="767.5" y="68.8" font-size="8.6" fill="#2a2a2a" text-anchor="middle" dominant-baseline="central" font-family='"Liberation Sans",sans-serif' font-weight="normal" stroke="#2a2a2a" stroke-width="0.22">叉课程</text>
<polygon points="743.8,110.6 791.1,110.6 795.6,127.8 739.3,127.8" fill="#fff" stroke="#b2b2b2" stroke-width="1" stroke-dasharray="1.3,1.2"/>
<text x="767.5" y="119.2" font-size="8.6" fill="#2a2a2a" text-anchor="middle" dominant-baseline="central" font-family='"Liberation Sans",sans-serif' font-weight="normal" stroke="#2a2a2a" stroke-width="0.22">专业选修课</text>
<rect x="784.5" y="99.7" width="11.5" height="11.3" fill="#fff" stroke="#333" stroke-width="1"/>
<text x="790.2" y="105.3" font-size="9" fill="#333" text-anchor="middle" dominant-baseline="central" font-family='"Liberation Sans",sans-serif' font-weight="normal">3</text>
<polygon points="743.8,210.8 791.3,210.8 795.8,239.7 739.3,239.7" fill="#fff" stroke="#b2b2b2" stroke-width="1"/>
<text x="767.5" y="219.2" font-size="8.6" fill="#2a2a2a" text-anchor="middle" dominant-baseline="central" font-family='"Liberation Sans",sans-serif' font-weight="normal" stroke="#2a2a2a" stroke-width="0.22">建筑热源</text>
<text x="767.5" y="231.2" font-size="8.6" fill="#2a2a2a" text-anchor="middle" dominant-baseline="central" font-family='"Liberation Sans",sans-serif' font-weight="normal" stroke="#2a2a2a" stroke-width="0.22">课程设计</text>
<rect x="784.3" y="199.8" width="11.9" height="11.2" fill="#fff" stroke="#333" stroke-width="1"/>
<text x="790.2" y="205.4" font-size="9" fill="#333" text-anchor="middle" dominant-baseline="central" font-family='"Liberation Sans",sans-serif' font-weight="normal">2</text>
<polygon points="744.3,257.0 791.3,257.0 796.3,284.4 739.3,284.4" fill="#fff" stroke="#b2b2b2" stroke-width="1"/>
<text x="767.8" y="264.7" font-size="8.6" fill="#2a2a2a" text-anchor="middle" dominant-baseline="central" font-family='"Liberation Sans",sans-serif' font-weight="normal" stroke="#2a2a2a" stroke-width="0.22">小区供暖外</text>
<text x="767.8" y="276.7" font-size="8.6" fill="#2a2a2a" text-anchor="middle" dominant-baseline="central" font-family='"Liberation Sans",sans-serif' font-weight="normal" stroke="#2a2a2a" stroke-width="0.22">网课程设计</text>
<rect x="784.3" y="246" width="11.9" height="11.0" fill="#fff" stroke="#333" stroke-width="1"/>
<text x="790.2" y="251.5" font-size="9" fill="#333" text-anchor="middle" dominant-baseline="central" font-family='"Liberation Sans",sans-serif' font-weight="normal">2</text>
<rect x="744.3" y="299" width="52.0" height="17.0" rx="4.5" fill="#fff" stroke="#b2b2b2" stroke-width="1"/>
<text x="770.3" y="307.5" font-size="8.6" fill="#2a2a2a" text-anchor="middle" dominant-baseline="central" font-family='"Liberation Sans",sans-serif' font-weight="normal" stroke="#2a2a2a" stroke-width="0.22">专业实验2</text>
<rect x="784.3" y="288" width="11.9" height="11.0" fill="#fff" stroke="#333" stroke-width="1"/>
<text x="790.2" y="293.5" font-size="9" fill="#333" text-anchor="middle" dominant-baseline="central" font-family='"Liberation Sans",sans-serif' font-weight="normal">3</text>
<rect x="841.7" y="64" width="21.0" height="323.0" fill="#fff" stroke="#b2b2b2" stroke-width="1"/>
<text x="852.2" y="208.0" font-size="8.6" fill="#2a2a2a" text-anchor="middle" dominant-baseline="central" font-family='"Liberation Sans",sans-serif' font-weight="normal" stroke="#2a2a2a" stroke-width="0.22">毕</text>
<text x="852.2" y="219.0" font-size="8.6" fill="#2a2a2a" text-anchor="middle" dominant-baseline="central" font-family='"Liberation Sans",sans-serif' font-weight="normal" stroke="#2a2a2a" stroke-width="0.22">业</text>
<text x="852.2" y="230.0" font-size="8.6" fill="#2a2a2a" text-anchor="middle" dominant-baseline="central" font-family='"Liberation Sans",sans-serif' font-weight="normal" stroke="#2a2a2a" stroke-width="0.22">设</text>
<text x="852.2" y="241.0" font-size="8.6" fill="#2a2a2a" text-anchor="middle" dominant-baseline="central" font-family='"Liberation Sans",sans-serif' font-weight="normal" stroke="#2a2a2a" stroke-width="0.22">计</text>
<rect x="600.5" y="415.3" width="257.3" height="123.2" fill="#f8f8f9" stroke="#a0a0a0" stroke-width="1"/>
<rect x="601" y="415.8" width="256.3" height="18.2" fill="#eef0f5"/>
<rect x="601" y="434" width="256.3" height="21" fill="#f3f4f8"/>
<line x1="600.5" y1="434" x2="857.8" y2="434" stroke="#b0b0b0" stroke-width="1"/>
<line x1="600.5" y1="455" x2="857.8" y2="455" stroke="#b0b0b0" stroke-width="1"/>
<line x1="600.5" y1="483.4" x2="857.8" y2="483.4" stroke="#b0b0b0" stroke-width="1"/>
<line x1="600.5" y1="502.4" x2="857.8" y2="502.4" stroke="#b0b0b0" stroke-width="1"/>
<line x1="600.5" y1="519.3" x2="857.8" y2="519.3" stroke="#b0b0b0" stroke-width="1"/>
<text x="731.0" y="424.3" font-size="10" fill="#222" text-anchor="middle" dominant-baseline="central" font-family='"Liberation Sans",sans-serif' font-weight="normal" stroke="#222" stroke-width="0.22">图例说明</text>
<text x="646.0" y="443.8" font-size="8.5" fill="#2a2a2a" text-anchor="middle" dominant-baseline="central" font-family='"Liberation Sans",sans-serif' font-weight="normal" stroke="#2a2a2a" stroke-width="0.22">(实线框)</text>
<line x1="624" y1="450" x2="666" y2="450" stroke="#888" stroke-width="1"/>
<text x="688.0" y="445.6" font-size="9.2" fill="#2a2a2a" text-anchor="middle" dominant-baseline="central" font-family='"Liberation Sans",sans-serif' font-weight="normal" stroke="#2a2a2a" stroke-width="0.22">必修课</text>
<text x="770.5" y="443.8" font-size="8.5" fill="#2a2a2a" text-anchor="middle" dominant-baseline="central" font-family='"Liberation Sans",sans-serif' font-weight="normal" stroke="#2a2a2a" stroke-width="0.22">(虚线框)</text>
<line x1="747" y1="450.3" x2="790" y2="450.3" stroke="#888" stroke-width="1" stroke-dasharray="1.2,1"/>
<text x="813.0" y="445.6" font-size="9.2" fill="#2a2a2a" text-anchor="middle" dominant-baseline="central" font-family='"Liberation Sans",sans-serif' font-weight="normal" stroke="#2a2a2a" stroke-width="0.22">选修课</text>
<rect x="607.5" y="458" width="57.3" height="23.0" fill="#fff" stroke="#b2b2b2" stroke-width="1"/>
<text x="636.1" y="464.0" font-size="7.6" fill="#2a2a2a" text-anchor="middle" dominant-baseline="central" font-family='"Liberation Sans",sans-serif' font-weight="normal" stroke="#2a2a2a" stroke-width="0.22">公共基础与大</text>
<text x="636.1" y="475.0" font-size="7.6" fill="#2a2a2a" text-anchor="middle" dominant-baseline="central" font-family='"Liberation Sans",sans-serif' font-weight="normal" stroke="#2a2a2a" stroke-width="0.22">类平台课程</text>
<polygon points="678.0,458.0 724.2,458.0 729.7,481.0 672.5,481.0" fill="#fff" stroke="#b2b2b2" stroke-width="1"/>
<text x="701.1" y="464.0" font-size="7.6" fill="#2a2a2a" text-anchor="middle" dominant-baseline="central" font-family='"Liberation Sans",sans-serif' font-weight="normal" stroke="#2a2a2a" stroke-width="0.22">专业</text>
<text x="701.1" y="475.0" font-size="7.6" fill="#2a2a2a" text-anchor="middle" dominant-baseline="central" font-family='"Liberation Sans",sans-serif' font-weight="normal" stroke="#2a2a2a" stroke-width="0.22">基础课程</text>
<polygon points="732.9,458.0 789.0,458.0 784.0,481.0 737.9,481.0" fill="#fff" stroke="#b2b2b2" stroke-width="1"/>
<text x="761.0" y="464.0" font-size="7.6" fill="#2a2a2a" text-anchor="middle" dominant-baseline="central" font-family='"Liberation Sans",sans-serif' font-weight="normal" stroke="#2a2a2a" stroke-width="0.22">专业与专业</text>
<text x="761.0" y="475.0" font-size="7.6" fill="#2a2a2a" text-anchor="middle" dominant-baseline="central" font-family='"Liberation Sans",sans-serif' font-weight="normal" stroke="#2a2a2a" stroke-width="0.22">方向课程</text>
<rect x="794.5" y="458" width="56.3" height="23.0" rx="4.5" fill="#fff" stroke="#b2b2b2" stroke-width="1"/>
<text x="822.6" y="464.0" font-size="7.6" fill="#2a2a2a" text-anchor="middle" dominant-baseline="central" font-family='"Liberation Sans",sans-serif' font-weight="normal" stroke="#2a2a2a" stroke-width="0.22">实验与实</text>
<text x="822.6" y="475.0" font-size="7.6" fill="#2a2a2a" text-anchor="middle" dominant-baseline="central" font-family='"Liberation Sans",sans-serif' font-weight="normal" stroke="#2a2a2a" stroke-width="0.22">践类课程</text>
<rect x="616.2" y="488.2" width="11.7" height="12.0" fill="#fff" stroke="#333" stroke-width="1"/>
<text x="622.0" y="494.2" font-size="9" fill="#333" text-anchor="middle" dominant-baseline="central" font-family='"Liberation Sans",sans-serif' font-weight="normal">1</text>
<text x="640.5" y="494.2" font-size="7.6" fill="#333" stroke="#333" stroke-width="0.12" dominant-baseline="central" font-family='"Liberation Sans",sans-serif'>在学期开始至少滞后四周开课</text>
<rect x="616.2" y="505" width="11.7" height="12.0" fill="#fff" stroke="#333" stroke-width="1"/>
<text x="622.0" y="511.0" font-size="9" fill="#333" text-anchor="middle" dominant-baseline="central" font-family='"Liberation Sans",sans-serif' font-weight="normal">2</text>
<text x="640.5" y="511" font-size="7.6" fill="#333" stroke="#333" stroke-width="0.12" dominant-baseline="central" font-family='"Liberation Sans",sans-serif'>安排在4-1学期前四周内</text>
<rect x="616.2" y="524.5" width="11.7" height="12.0" fill="#fff" stroke="#333" stroke-width="1"/>
<text x="622.0" y="530.5" font-size="9" fill="#333" text-anchor="middle" dominant-baseline="central" font-family='"Liberation Sans",sans-serif' font-weight="normal">3</text>
<text x="640.5" y="530.5" font-size="7.6" fill="#333" stroke="#333" stroke-width="0.12" dominant-baseline="central" font-family='"Liberation Sans",sans-serif'>开课由第五周开始</text>
</svg>
</body></html>
